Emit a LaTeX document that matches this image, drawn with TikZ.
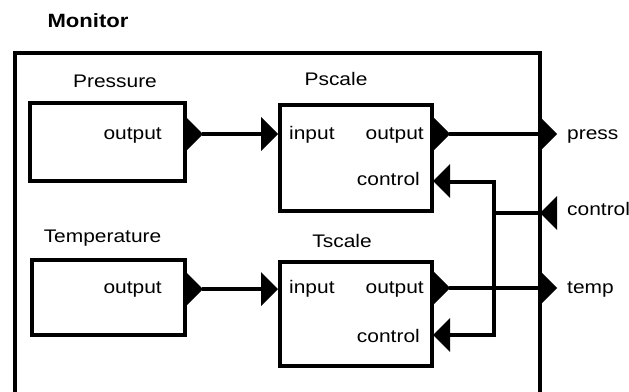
\documentclass[tikz,border=0pt]{standalone}
\usepackage{fontspec}
\setmainfont[FakeStretch=1.15]{Liberation Sans}
\begin{document}
\begin{tikzpicture}[x=1pt,y=-1pt,
  font=\fontsize{18.2}{21}\selectfont,
  box/.style={draw, line width=4pt, inner sep=0pt},
  wire/.style={line width=4pt, line join=miter},
  lbl/.style={inner sep=0pt, anchor=base},
  lblw/.style={inner sep=0pt, anchor=base west},
  lble/.style={inner sep=0pt, anchor=base east},
  rtri/.pic={\fill (0,-17) -- (17,0) -- (0,17) -- cycle;},
  ltri/.pic={\fill (0,-17) -- (-17,0) -- (0,17) -- cycle;}]
\useasboundingbox (0,0) rectangle (629,391);
\clip (0,0) rectangle (629,391);
% outer box
\node[box, minimum width=525pt, minimum height=367pt] (monitor) at (277.5,236.5) {};
\node[lbl, font=\fontsize{19.2}{22}\selectfont\bfseries] (monitorlbl) at (88,27) {Monitor};
% inner boxes
\node[box, minimum width=155pt, minimum height=78pt] (pressure) at (107.5,142) {};
\node[box, minimum width=153pt, minimum height=75pt] (temperature) at (108.5,297.5) {};
\node[box, minimum width=152pt, minimum height=106pt] (pscale) at (356,158) {};
\node[box, minimum width=152pt, minimum height=104pt] (tscale) at (356,314) {};
% titles
\node[lbl] (pressurelbl) at (115,87) {Pressure};
\node[lbl] (temperaturelbl) at (102.5,242) {Temperature};
\node[lbl] (pscalelbl) at (336,85) {Pscale};
\node[lbl] (tscalelbl) at (342,247) {Tscale};
% port labels
\node[lble] (pr-ol) at (162,139) {output};
\node[lble] (te-ol) at (162,293) {output};
\node[lblw] (ps-il) at (289,139) {input};
\node[lble] (ps-ol) at (424,139) {output};
\node[lble] (ps-cl) at (420,185) {control};
\node[lblw] (ts-il) at (289,293) {input};
\node[lble] (ts-ol) at (424,293) {output};
\node[lble] (ts-cl) at (420,342) {control};
\node[lblw] (m-pl) at (567,139) {press};
\node[lblw] (m-cl) at (567,215) {control};
\node[lblw] (m-tl) at (567,293) {temp};
% ports
\pic at (186,134) {rtri};
\pic at (261,134) {rtri};
\pic at (433,134) {rtri};
\pic at (540,134) {rtri};
\pic at (186,289) {rtri};
\pic at (261,289) {rtri};
\pic at (433,288) {rtri};
\pic at (540,288) {rtri};
\pic at (450,181) {ltri};
\pic at (450,335) {ltri};
\pic at (557,213) {ltri};
\coordinate (pr-o) at (202,134);
\coordinate (ps-i) at (262,134);
\coordinate (ps-o) at (449,134);
\coordinate (m-p) at (541,134);
\coordinate (te-o) at (202,289);
\coordinate (ts-i) at (262,289);
\coordinate (ts-o) at (449,288);
\coordinate (m-t) at (541,288);
\coordinate (ps-c) at (449,182);
\coordinate (ts-c) at (449,335);
\coordinate (m-c) at (540,213);
\coordinate (j) at (494,213);
% wires
\draw[wire] (pr-o) -- (ps-i);
\draw[wire] (te-o) -- (ts-i);
\draw[wire] (ps-o) -- (m-p);
\draw[wire] (ts-o) -- (m-t);
\draw[wire, line cap=rect] (m-c) -- (j);
\draw[wire] (ps-c) -| (j) |- (ts-c);
\end{tikzpicture}
\end{document}
